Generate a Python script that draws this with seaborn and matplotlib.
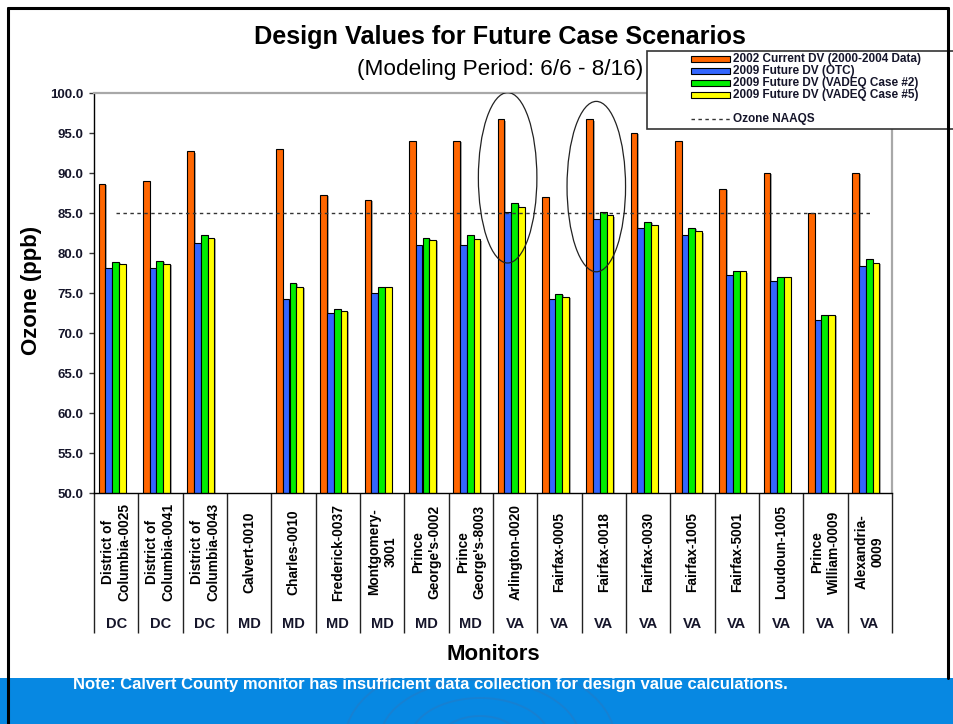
import numpy as np
import matplotlib
matplotlib.use('Agg')
import matplotlib.pyplot as plt
import matplotlib.patheffects as pe
import matplotlib.transforms as mtransforms
from matplotlib.patches import Rectangle, Ellipse
from matplotlib.lines import Line2D
import pandas as pd
import seaborn as sns

# ---- data ----
monitors = ['District of\nColumbia-0025', 'District of\nColumbia-0041', 'District of\nColumbia-0043',
            'Calvert-0010', 'Charles-0010', 'Frederick-0037', 'Montgomery-\n3001',
            "Prince\nGeorge's-0002", "Prince\nGeorge's-8003", 'Arlington-0020', 'Fairfax-0005',
            'Fairfax-0018', 'Fairfax-0030', 'Fairfax-1005', 'Fairfax-5001', 'Loudoun-1005',
            'Prince\nWilliam-0009', 'Alexandria-\n0009']
states = ['DC', 'DC', 'DC', 'MD', 'MD', 'MD', 'MD', 'MD', 'MD',
          'VA', 'VA', 'VA', 'VA', 'VA', 'VA', 'VA', 'VA', 'VA']
dv_2002 = [88.6, 89.0, 92.7, np.nan, 93.0, 87.3, 86.6, 94.0, 94.0,
           96.7, 87.0, 96.7, 95.0, 94.0, 88.0, 90.0, 85.0, 90.0]
dv_otc = [78.1, 78.1, 81.3, np.nan, 74.3, 72.5, 75.0, 81.0, 81.0,
          85.1, 74.2, 84.3, 83.1, 82.2, 77.2, 76.5, 71.6, 78.4]
dv_case2 = [78.9, 79.0, 82.3, np.nan, 76.3, 73.0, 75.8, 81.9, 82.2,
            86.2, 74.9, 85.1, 83.9, 83.1, 77.8, 77.0, 72.3, 79.2]
dv_case5 = [78.6, 78.6, 81.9, np.nan, 75.8, 72.8, 75.7, 81.6, 81.7,
            85.8, 74.5, 84.7, 83.5, 82.7, 77.7, 77.0, 72.3, 78.8]
series_names = ['2002 Current DV (2000-2004 Data)', '2009 Future DV (OTC)',
                '2009 Future DV (VADEQ Case #2)', '2009 Future DV (VADEQ Case #5)']
series_colors = ['#FF6600', '#3366FF', '#00EE00', '#FFFF00']
naaqs = 85.0
circled = ['Arlington-0020', 'Fairfax-0018']
circle_mid = [89.4, 88.3]

df = pd.DataFrame({'monitor': monitors * 4,
                   'series': np.repeat(series_names, len(monitors)),
                   'value': dv_2002 + dv_otc + dv_case2 + dv_case5})

sns.set_style('white')
plt.rcParams['font.family'] = ['Liberation Sans', 'DejaVu Sans']
ink = '#15152a'

W, H = 954, 724
fx = lambda px: px / W
fy = lambda py: 1 - py / H

fig = plt.figure(figsize=(9.54, 7.24), dpi=100)
ax = fig.add_axes([fx(94), fy(493), 798 / W, 400 / H])

sns.barplot(data=df, x='monitor', y='value', hue='series', order=monitors,
            hue_order=series_names, palette=series_colors, saturation=1,
            width=0.61, gap=0, errorbar=None, edgecolor='black', linewidth=0.8,
            legend=False, ax=ax)
# bar clusters sit a little left of the category centre, as in the original
shift = mtransforms.ScaledTranslation(-4 / 100, 0, fig.dpi_scale_trans)
for p in ax.patches:
    p.set_transform(ax.transData + shift)
    p.set_path_effects([pe.SimplePatchShadow(offset=(1.2, -0.8), shadow_rgbFace='#888888', alpha=0.7),
                        pe.Normal()])

ax.hlines(naaqs, 0, len(monitors) - 1, colors='#333333', linestyles=(0, (2.5, 2.5)), lw=1, zorder=3)

# circled monitors
for name, mid in zip(circled, circle_mid):
    i = monitors.index(name)
    ax.add_patch(Ellipse((i - 0.17, mid), 1.32, 21.3, fill=False, ec='#222222', lw=0.9, zorder=4))

ax.set_ylim(50, 100)
ax.set_xlim(-0.5, len(monitors) - 0.5)
ax.set_yticks(np.arange(50, 100.1, 5))
ax.set_yticklabels([f'{v:.1f}' for v in np.arange(50, 100.1, 5)], fontsize=9.5,
                   fontweight='bold', color=ink)
ax.tick_params(axis='y', direction='out', length=3.6, width=1, color='#333333', pad=4, left=True)

ax.set_xticks(range(len(monitors)))
ax.set_xticklabels(monitors, rotation=90, fontsize=9.9, fontweight='bold', color='black',
                   va='center', ha='center', multialignment='center')
ax.tick_params(axis='x', which='major', length=0, pad=42.5)
ax.set_xticks(np.arange(-0.5, len(monitors)), minor=True)
ax.tick_params(axis='x', which='minor', length=100.8, width=1, color='#222222', bottom=True)

for i, st in enumerate(states):
    ax.text(i, (493 - 624) / 400, st, transform=ax.get_xaxis_transform(), ha='center',
            va='center', fontsize=10.5, fontweight='bold', color=ink)

for side in ['left', 'bottom']:
    ax.spines[side].set_color('black')
    ax.spines[side].set_linewidth(1)
for side in ['top', 'right']:
    ax.spines[side].set_color('#a8a8a8')
    ax.spines[side].set_linewidth(1.6)

ax.set_ylabel('Ozone (ppb)', fontsize=16, fontweight='bold', color='black')
ax.yaxis.set_label_coords((32 - 94) / 798, (493 - 290) / 400)
ax.yaxis.label.set_va('center')
ax.set_xlabel('Monitors', fontsize=16, fontweight='bold', color='black')
ax.xaxis.set_label_coords(0.5, (493 - 654) / 400)
ax.xaxis.label.set_va('center')

fig.text(fx(500), fy(37), 'Design Values for Future Case Scenarios', ha='center', va='center',
         fontsize=18.2, fontweight='bold', color='black')
fig.text(fx(500), fy(70), '(Modeling Period: 6/6 - 8/16)', ha='center', va='center',
         fontsize=16.2, color='black')

# legend box
fig.add_artist(Rectangle((fx(647), fy(129)), fx(965) - fx(647), (129 - 51) / H,
                         transform=fig.transFigure, fc='white', ec='#333333', lw=1.2, zorder=5))
for k, (name, col) in enumerate(zip(series_names, series_colors)):
    yc = 59 + 12.1 * k
    fig.add_artist(Rectangle((fx(691), fy(yc + 3)), 39 / W, 6 / H, transform=fig.transFigure,
                             fc=col, ec='black', lw=0.8, zorder=6))
    fig.text(fx(733), fy(yc), name, ha='left', va='center', fontsize=8.5, fontweight='bold',
             color=ink, zorder=6)
fig.add_artist(Line2D([fx(691), fx(730)], [fy(119), fy(119)], transform=fig.transFigure,
                      color='#333333', lw=1, ls=(0, (2.5, 2.5)), zorder=6))
fig.text(fx(733), fy(119), 'Ozone NAAQS', ha='left', va='center', fontsize=8.5,
         fontweight='bold', color=ink, zorder=6)

# bottom banner
banner = Rectangle((0, 0), 1, (724 - 678) / H, transform=fig.transFigure, fc='#0788e2',
                   ec='none', zorder=7)
fig.add_artist(banner)
for r in [40, 70, 100, 135]:
    ring = Ellipse((fx(480), fy(740)), 2 * r / W, 1.2 * r / H, transform=fig.transFigure,
                   fill=False, ec='#2a78c0', lw=1.4, alpha=0.45, zorder=7.5)
    fig.add_artist(ring)
    ring.set_clip_path(banner)
fig.text(fx(73), fy(685), 'Note: Calvert County monitor has insufficient data collection for design value calculations.',
         ha='left', va='center', fontsize=12, fontweight='bold', color='white', zorder=8)

# slide frame
for xs, ys in [([8, 8], [8, 724]), ([8, 948], [8, 8]), ([948, 948], [8, 678])]:
    fig.add_artist(Line2D([fx(x) for x in xs], [fy(y) for y in ys], transform=fig.transFigure,
                          color='black', lw=2.2, zorder=9))

fig.savefig('out.png', dpi=100, facecolor='white')
